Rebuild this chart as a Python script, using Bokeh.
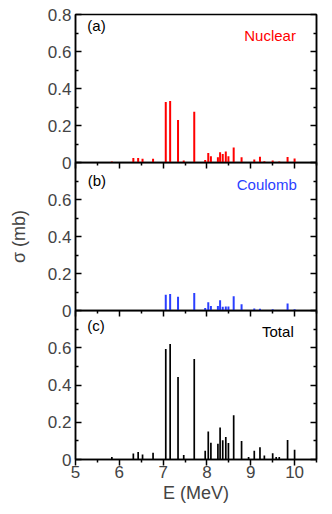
from bokeh.plotting import figure
from bokeh.models import LinearAxis, FixedTicker, Label, ColumnDataSource, Range1d
from bokeh.layouts import column
from bokeh.embed import file_html
from bokeh.resources import INLINE

# ---- data ----
energy = [5.83, 6.32, 6.43, 6.53, 6.77, 7.06, 7.16, 7.34, 7.47, 7.71,
          7.96, 8.03, 8.09, 8.25, 8.30, 8.36, 8.43, 8.49, 8.61, 8.79,
          8.95, 9.08, 9.21, 9.31, 9.50, 9.58, 9.65, 9.84, 10.00]
nuclear = [0.005, 0.025, 0.025, 0.020, 0.020, 0.327, 0.332, 0.230, 0.011, 0.275,
           0.014, 0.052, 0.034, 0.029, 0.056, 0.046, 0.059, 0.034, 0.081, 0.029,
           0.000, 0.016, 0.031, 0.007, 0.011, 0.000, 0.005, 0.030, 0.022]
coulomb = [0.000, 0.000, 0.000, 0.000, 0.000, 0.085, 0.089, 0.075, 0.003, 0.094,
           0.013, 0.045, 0.024, 0.024, 0.056, 0.020, 0.022, 0.022, 0.077, 0.034,
           0.003, 0.011, 0.009, 0.000, 0.007, 0.000, 0.000, 0.038, 0.007]
total = [0.014, 0.032, 0.040, 0.027, 0.036, 0.593, 0.620, 0.443, 0.024, 0.540,
         0.047, 0.151, 0.090, 0.084, 0.172, 0.104, 0.121, 0.089, 0.237, 0.100,
         0.014, 0.047, 0.066, 0.021, 0.034, 0.013, 0.014, 0.105, 0.053]

x_major = [5, 6, 7, 8, 9, 10]
x_minor = [5.5, 6.5, 7.5, 8.5, 9.5, 10.5]
y_major_top = [0, 0.2, 0.4, 0.6, 0.8]
y_major_low = [0, 0.2, 0.4, 0.6]
y_minor = [0.1, 0.3, 0.5, 0.7]

FONT = "Liberation Sans"
LEFT = 75
RIGHT = 7
W = LEFT + 241 + RIGHT
OVER = 13  # border below panels a/b that overlaps the next (transparent) panel


def hide_labels(ax):
    ax.major_label_text_color = None
    ax.major_label_text_font_size = "1px"
    ax.major_label_standoff = 0


def panel(values, color, bar_w, tag, tag_xy, name, name_xy, name_color,
          yticks, frame_h, top, bottom, show_x, ylabel=None):
    p = figure(width=W, height=frame_h + top + bottom,
               x_range=Range1d(5, 10.5), y_range=Range1d(0, 0.8),
               x_axis_type=None, y_axis_type=None, title=None,
               output_backend="svg", toolbar_location=None,
               min_border_left=LEFT, min_border_right=RIGHT,
               min_border_top=top, min_border_bottom=bottom)
    p.background_fill_color = None
    p.border_fill_color = None
    p.outline_line_color = "black"
    p.outline_line_width = 1.5

    xs = [e for e, v in zip(energy, values) if v > 0]
    vs = [v for v in values if v > 0]
    src = ColumnDataSource(dict(E=xs, v=vs))
    p.segment(x0="E", y0=0, x1="E", y1="v", source=src,
              line_color=color, line_width=bar_w)

    # bottom axis: ticks pointing out (down)
    xa = LinearAxis(ticker=FixedTicker(ticks=x_major, minor_ticks=x_minor))
    xa.major_tick_in = 0
    xa.major_tick_out = 6
    xa.minor_tick_in = 0
    xa.minor_tick_out = 3
    xa.axis_line_width = 1.5
    xa.major_tick_line_width = 1.5
    xa.minor_tick_line_width = 1.5
    xa.major_label_text_font = FONT
    if show_x:
        xa.major_label_text_font_size = "17px"
        xa.major_label_standoff = 0
        xa.axis_label = "E (MeV)"
        xa.axis_label_text_font = FONT
        xa.axis_label_text_font_size = "18px"
        xa.axis_label_text_font_style = "normal"
        xa.axis_label_standoff = 2
    else:
        hide_labels(xa)
    p.add_layout(xa, "below")

    for side in ("left", "right"):
        ya = LinearAxis(ticker=FixedTicker(ticks=yticks, minor_ticks=y_minor))
        ya.major_tick_in = 6
        ya.major_tick_out = 0
        ya.minor_tick_in = 3
        ya.minor_tick_out = 0
        ya.axis_line_width = 1.5
        ya.major_tick_line_width = 1.5
        ya.minor_tick_line_width = 1.5
        ya.major_label_text_font = FONT
        if side == "left":
            ya.major_label_text_font_size = "17px"
            ya.major_label_standoff = 4
            if ylabel:
                ya.axis_label = ylabel
                ya.axis_label_text_font = FONT
                ya.axis_label_text_font_size = "18px"
                ya.axis_label_text_font_style = "normal"
                ya.axis_label_standoff = 16
        else:
            hide_labels(ya)
        p.add_layout(ya, side)

    p.add_layout(Label(x=tag_xy[0], y=tag_xy[1], text=tag, text_font=FONT,
                       text_font_size="15px", text_color="black"))
    p.add_layout(Label(x=name_xy[0], y=name_xy[1], text=name, text_font=FONT,
                       text_font_size="15px", text_color=name_color,
                       text_align="right"))
    return p


pa = panel(nuclear, "#ff0000", 2, "(a)", (5.27, 0.692), "Nuclear", (10.03, 0.638),
           "#ff0000", y_major_top, 148, 14, OVER, False)
pb = panel(coulomb, "#2b3fff", 2, "(b)", (5.28, 0.656), "Coulomb", (10.05, 0.636),
           "#2b3fff", y_major_low, 148, 0, OVER, False, ylabel="σ (mb)")
pc = panel(total, "black", 1.7, "(c)", (5.27, 0.672), "Total", (9.98, 0.641),
           "black", y_major_low, 149, 0, 53, True)

pa.margin = (0, 0, -OVER, 0)
pb.margin = (0, 0, -OVER, 0)
pc.margin = (0, 0, 0, 0)

layout = column(pa, pb, pc, spacing=0)
open("out.html", "w").write(file_html(layout, INLINE))
